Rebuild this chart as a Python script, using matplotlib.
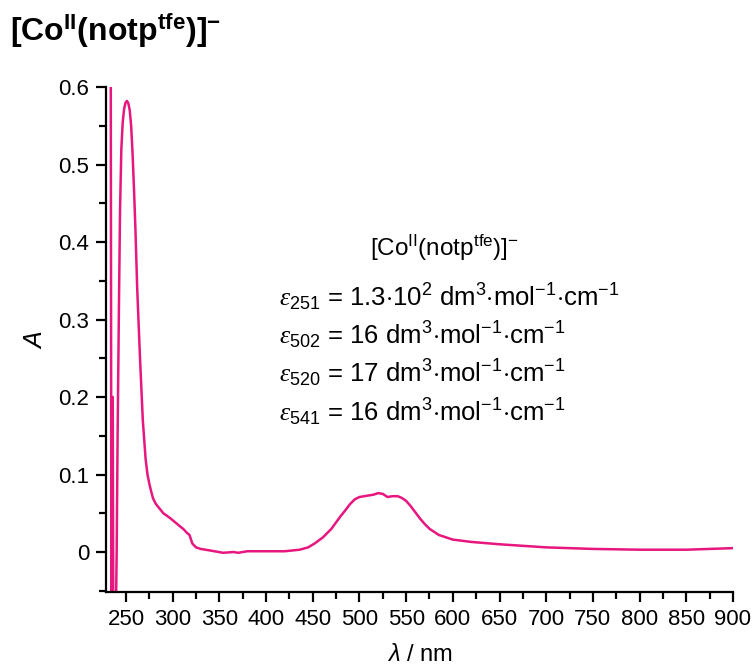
import matplotlib
matplotlib.use("Agg")
import matplotlib.pyplot as plt
from matplotlib.ticker import MultipleLocator

plt.rcParams['font.family'] = ['Liberation Sans', 'DejaVu Sans']
plt.rcParams['mathtext.fontset'] = 'custom'
plt.rcParams['mathtext.rm'] = 'Liberation Sans'
plt.rcParams['mathtext.it'] = 'Liberation Sans:italic'
plt.rcParams['mathtext.bf'] = 'Liberation Sans:bold'
plt.rcParams['mathtext.cal'] = 'Liberation Serif:italic'

# absorbance spectrum
wavelength = [233, 233.6, 234.4, 235.2, 235.8, 236.4, 237.5, 239, 240, 241, 242.5, 243.6,
              245, 246.5, 248, 249.5, 251, 252.5, 254, 255.5, 257, 258.5, 260, 262,
              265, 268, 271, 273, 275, 277, 279, 282, 286, 290, 297, 305, 312,
              315, 318, 321, 325, 330, 340, 354, 365, 370,
              380, 400, 420, 436, 445, 452, 461, 470, 479, 485, 490, 495, 500,
              505, 510, 515, 520, 525, 530, 535, 541, 545, 550, 555, 560, 565,
              570, 575, 580, 585, 590, 600, 620, 650, 700, 750,
              800, 850, 900]
absorb = [0.70, 0.70, -0.10, 0.20, 0.20, -0.10, -0.10, -0.10, 0.00, 0.15, 0.325, 0.44,
          0.52, 0.555, 0.572, 0.580, 0.582, 0.579, 0.570, 0.550, 0.515, 0.47, 0.42, 0.34,
          0.25, 0.17, 0.12, 0.10, 0.088, 0.078, 0.069, 0.062, 0.056, 0.050, 0.044, 0.036, 0.029,
          0.025, 0.022, 0.011, 0.006, 0.004, 0.002, -0.001, 0.000, -0.001,
          0.001, 0.001, 0.001, 0.003, 0.006, 0.011, 0.019, 0.030, 0.045, 0.054, 0.062, 0.068, 0.071,
          0.072, 0.073, 0.074, 0.076, 0.075, 0.071, 0.072, 0.072, 0.070, 0.066, 0.059, 0.051, 0.043,
          0.036, 0.030, 0.026, 0.022, 0.020, 0.016, 0.013, 0.010, 0.006, 0.004,
          0.003, 0.003, 0.005]

title = r'[Co$^{\mathbf{II}}$(notp$^{\mathbf{tfe}}$)]$^{\mathbf{-}}$'
inset = r'[Co$^{\rm II}$(notp$^{\rm tfe}$)]$^{\rm{-}}$'
eps_lines = [
    r'$\mathcal{\varepsilon}_{251}$ = 1.3$\cdot$10$^2$ dm$^3$$\cdot$mol$^{-1}$$\cdot$cm$^{-1}$',
    r'$\mathcal{\varepsilon}_{502}$ = 16 dm$^3$$\cdot$mol$^{-1}$$\cdot$cm$^{-1}$',
    r'$\mathcal{\varepsilon}_{520}$ = 17 dm$^3$$\cdot$mol$^{-1}$$\cdot$cm$^{-1}$',
    r'$\mathcal{\varepsilon}_{541}$ = 16 dm$^3$$\cdot$mol$^{-1}$$\cdot$cm$^{-1}$',
]

fig = plt.figure(figsize=(7.53, 6.70), dpi=100)
ax = fig.add_axes([0.1408, 0.1164, 0.8326, 0.7537])

ax.plot(wavelength, absorb, color='#E8167F', lw=1.8, solid_joinstyle='round')

ax.set_xlim(228.6, 900)
ax.set_ylim(-0.0516, 0.6)
ax.xaxis.set_minor_locator(MultipleLocator(25))
ax.yaxis.set_minor_locator(MultipleLocator(0.05))
ax.set_xticks(range(250, 901, 50))
ax.set_yticks([0, 0.1, 0.2, 0.3, 0.4, 0.5, 0.6])
ax.set_yticklabels(['0', '0.1', '0.2', '0.3', '0.4', '0.5', '0.6'])

for s in ['top', 'right']:
    ax.spines[s].set_visible(False)
for s in ['left', 'bottom']:
    ax.spines[s].set_linewidth(1.6)
ax.tick_params(which='major', length=7, width=1.6, labelsize=16, direction='out', pad=5)
ax.tick_params(which='minor', length=5, width=1.6, direction='out')

ax.set_xlabel(r'$\lambda$ / nm', fontsize=17, labelpad=10)
ax.set_ylabel(r'$A$', fontsize=18, labelpad=8)

fig.text(0.59, 1 - 248 / 670, inset, fontsize=17.5, ha='center', va='center')
for i, line in enumerate(eps_lines):
    fig.text(279 / 753, 1 - (297 + 38.3 * i) / 670, line, fontsize=18.5, ha='left', va='center')

fig.text(0.013, 1 - 30 / 670, title, fontsize=23, fontweight='bold', ha='left', va='center')

fig.savefig('out.png', dpi=100)
